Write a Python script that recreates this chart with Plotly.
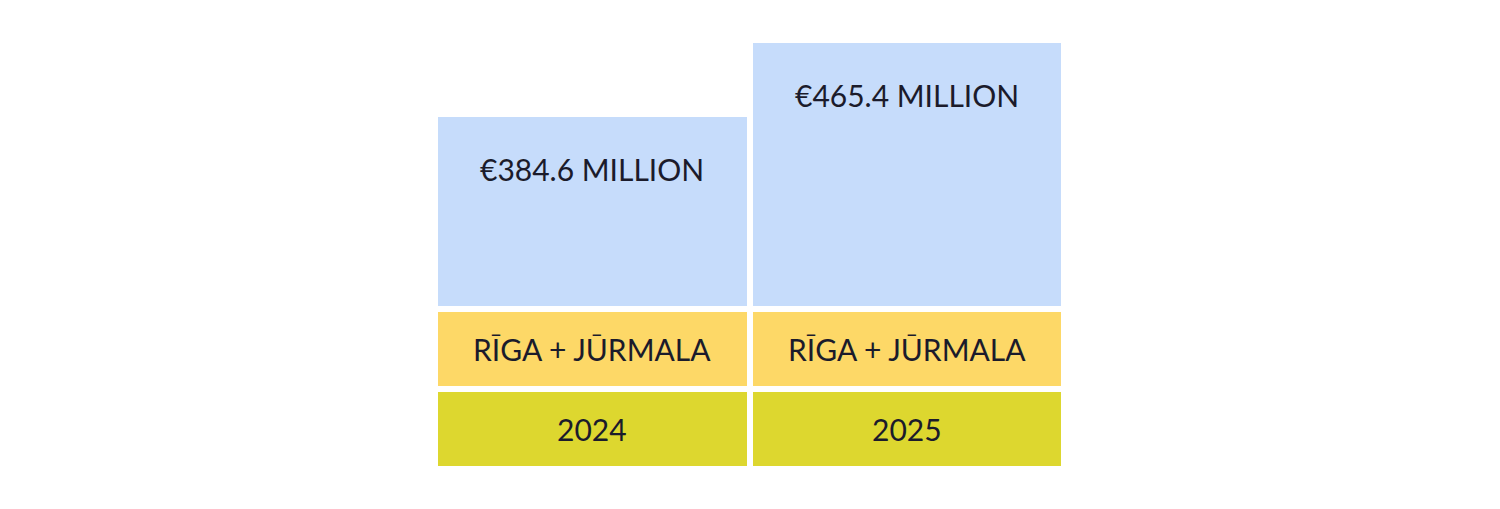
"""Two-column infographic: tourism spend for Rīga + Jūrmala, 2024 vs 2025."""

import plotly.graph_objects as go

# data
years = ["2024", "2025"]
values = [384.6, 465.4]  # EUR million
region_label = "RĪGA + JŪRMALA"
value_labels = ["€384.6 MILLION", "€465.4 MILLION"]

# style
BAND = 87  # height of the year / region bands, in value units
BLUE = "#C6DCFB"
YELLOW = "#FDD867"
GREEN = "#DDD72F"
INK = "#1B1B2B"
FONT = dict(family="Lato, 'Open Sans', sans-serif", size=30, color=INK)
LINE = dict(color="white", width=6.5)

# numeric slots (string years get mis-typed by the axis)
xs = list(range(len(years)))
blue_part = [v - 2 * BAND for v in values]

fig = go.Figure()
fig.add_trace(go.Bar(x=xs, y=[BAND] * len(xs), marker=dict(color=GREEN, line=LINE)))
fig.add_trace(go.Bar(x=xs, y=[BAND] * len(xs), marker=dict(color=YELLOW, line=LINE)))
fig.add_trace(go.Bar(x=xs, y=blue_part, marker=dict(color=BLUE, line=LINE)))

for x, yr, v, lab in zip(xs, years, values, value_labels):
    fig.add_annotation(x=x, y=BAND / 2, text=yr, showarrow=False, font=FONT)
    fig.add_annotation(x=x, y=BAND * 1.5, text=region_label, showarrow=False, font=FONT)
    fig.add_annotation(x=x, y=v, yshift=-55, text=lab, showarrow=False, font=FONT)

# page body adds an 8px offset, margins compensate
fig.update_layout(
    barmode="stack",
    bargap=0,
    showlegend=False,
    width=1500,
    height=509,
    margin=dict(l=427, r=444, t=12, b=48),
    paper_bgcolor="white",
    plot_bgcolor="white",
    xaxis=dict(visible=False, range=[-0.5, len(xs) - 0.5]),
    yaxis=dict(visible=False, range=[0, 487.1]),
    hovermode=False,
)

fig.write_html("out.html", config=dict(displayModeBar=False))
